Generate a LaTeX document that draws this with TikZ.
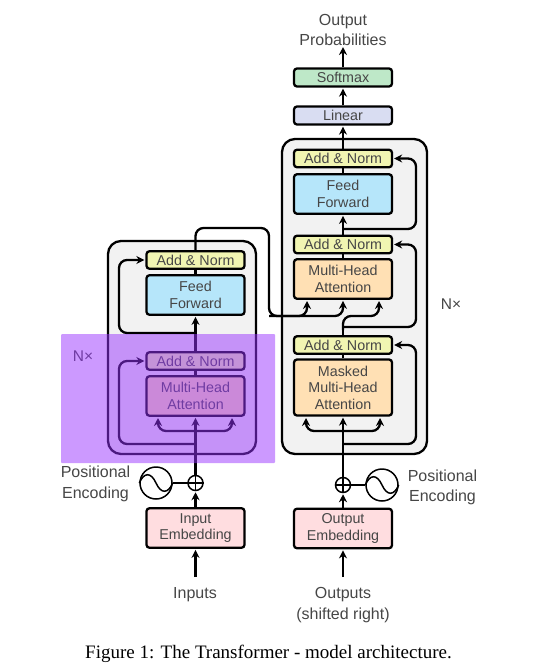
\documentclass[tikz,border=0pt]{standalone}
\usepackage{fontspec}
\setmainfont{Liberation Sans}
\newfontfamily\capfont{Liberation Serif}
\usetikzlibrary{arrows.meta}
\definecolor{cAN}{RGB}{241,245,178}
\definecolor{cFF}{RGB}{182,230,250}
\definecolor{cMH}{RGB}{255,224,180}
\definecolor{cEM}{RGB}{255,221,224}
\definecolor{cSM}{RGB}{190,232,200}
\definecolor{cLN}{RGB}{217,221,242}
\definecolor{cBG}{RGB}{242,242,242}
\definecolor{cTX}{RGB}{70,70,70}
\definecolor{cPU}{RGB}{153,51,255}
\tikzset{
  x=1pt,y=-1pt,
  blk/.style={draw=black,line width=2.3pt,rounded corners=3pt,minimum width=98pt,inner sep=0pt,align=center,text=cTX,font=\fontsize{14.3}{16.6}\selectfont},
  an/.style={blk,fill=cAN,minimum height=17.5pt},
  two/.style={blk,minimum height=39.5pt},
  stack/.style={draw=black,line width=2.3pt,fill=cBG,rounded corners=13pt},
  conn/.style={line width=2.3pt,draw=black,rounded corners=8pt},
  arr/.style={conn,-{Stealth[length=8pt,width=8pt]},shorten >=1pt},
  lab/.style={text=cTX,align=center,font=\fontsize{16}{20.3}\selectfont,inner sep=0pt},
  sine/.style={draw=black,line width=1.5pt,circle,minimum size=32pt,inner sep=0pt},
  plus/.style={draw=black,line width=1.5pt,circle,minimum size=15pt,inner sep=0pt}
}
\begin{document}
\begin{tikzpicture}
\useasboundingbox (0,0) rectangle (550,669);
% stacks
\node[stack,minimum width=148pt,minimum height=213pt,inner sep=0pt] (enc) at (182,347.5) {};
\node[stack,minimum width=145pt,minimum height=315pt,inner sep=0pt] (dec) at (354.5,296.5) {};
% encoder nodes
\node[an] (ean2) at (195.5,260) {Add \& Norm};
\node[two,fill=cFF] (eff) at (195.5,295) {Feed\\Forward};
\node[an] (ean1) at (195.5,361) {Add \& Norm};
\node[two,fill=cMH] (emh) at (195.5,396) {Multi-Head\\Attention};
\node[two,fill=cEM] (eem) at (195.5,528) {\raisebox{-1pt}{Input}\\\raisebox{-1pt}{Embedding}};
\node[plus] (eplus) at (195.5,483) {};
\node[sine] (esin) at (156,483) {};
% decoder nodes
\node[blk,fill=cSM,minimum height=18pt] (sm) at (343,77.5) {Softmax};
\node[blk,fill=cLN,minimum height=18pt] (ln) at (343,115.5) {Linear};
\node[an] (dan3) at (343,158.5) {Add \& Norm};
\node[two,fill=cFF] (dff) at (343,194) {Feed\\Forward};
\node[an] (dan2) at (343,244.5) {Add \& Norm};
\node[two,fill=cMH] (dmh) at (343,279) {Multi-Head\\Attention};
\node[an] (dan1) at (343,345) {Add \& Norm};
\node[blk,fill=cMH,minimum height=56pt] (dmm) at (343,387.5) {Masked\\Multi-Head\\Attention};
\node[two,fill=cEM] (dem) at (343,528.5) {Output\\Embedding};
\node[plus] (dplus) at (343,485) {};
\node[sine] (dsin) at (382,485) {};
% labels
\node[lab] (outp) at (343,30) {Output\\Probabilities};
\node[lab] (inl) at (195,595) {Inputs};
\node[lab] (outl) at (343,605) {Outputs\\(shifted right)};
\node[lab] (pel) at (95.5,484) {Positional\\Encoding};
\node[lab] (per) at (442.5,487.5) {Positional\\Encoding};
\node[lab,font=\fontsize{15.5}{18}\selectfont] (nxr) at (451,304) {N×};
\node[lab,font=\fontsize{15.5}{18}\selectfont] (nxl) at (83,356) {N×};
\node[inner sep=0pt,text=black,font=\capfont\fontsize{19}{22}\selectfont] (cap) at (268.5,654) {Figure 1: The Transformer - model architecture.};
% sine curves & plus marks
\draw[line width=1.5pt] (esin.west) .. controls (144,472) and (151,472) .. (esin.center) .. controls (161,494) and (168,494) .. (esin.east);
\draw[line width=1.5pt] (dsin.west) .. controls (370,474) and (377,474) .. (dsin.center) .. controls (387,496) and (394,496) .. (dsin.east);
\draw[line width=1.3pt] (eplus.north) -- (eplus.south) (eplus.west) -- (eplus.east);
\draw[line width=1.3pt] (dplus.north) -- (dplus.south) (dplus.west) -- (dplus.east);
\draw[conn] (esin.east) -- (eplus.west);
\draw[conn] (dsin.west) -- (dplus.east);
% free coordinates
\coordinate (i1) at (195.5,577);
\coordinate (i2) at (343,577);
\coordinate (e1) at (195.5,444);
\coordinate (e2) at (119,444);
\coordinate (e3) at (119,361);
\coordinate (e4) at (195.5,431);
\coordinate (e5) at (158,431);
\coordinate (e6) at (158,417);
\coordinate (e7) at (232,431);
\coordinate (e8) at (232,417);
\coordinate (f1) at (195.5,333);
\coordinate (f2) at (119,333);
\coordinate (f3) at (119,260);
\coordinate (c1) at (195.5,228);
\coordinate (c2) at (269,228);
\coordinate (c3) at (269,316);
\coordinate (c4) at (343,316);
\coordinate (c5) at (307,316);
\coordinate (c6) at (307,300);
\coordinate (c7) at (343,330);
\coordinate (c8) at (379,316);
\coordinate (c9) at (379,300);
\coordinate (r1) at (343,327);
\coordinate (r2) at (416,327);
\coordinate (r3) at (416,244.5);
\coordinate (s1) at (343,229);
\coordinate (s2) at (416,229);
\coordinate (s3) at (416,158.5);
\coordinate (t1) at (343,444);
\coordinate (t2) at (416,444);
\coordinate (t3) at (416,345);
\coordinate (u1) at (343,431);
\coordinate (u2) at (306,431);
\coordinate (u3) at (306,417);
\coordinate (u4) at (380,431);
\coordinate (u5) at (380,417);
% encoder connectors
\draw[arr] (i1) -- (eem.south);
\draw[arr] (eem.north) -- (eplus.south);
\draw[arr] (eplus.north) -- (emh.south);
\draw[conn] (emh.north) -- (ean1.south);
\draw[arr] (ean1.north) -- (eff.south);
\draw[conn] (eff.north) -- (ean2.south);
\draw[arr] (e1) -- (e2) -- (e3) -- (ean1.west);
\draw[arr] (f1) -- (f2) -- (f3) -- (ean2.west);
\draw[arr] (e4) -- (e5) -- (e6);
\draw[arr] (e4) -- (e7) -- (e8);
% encoder to decoder
\draw[arr] (ean2.north) -- (c1) -- (c2) -- (c3) -- (c4) -- (dmh.south);
\draw[arr] (c3) -- (c5) -- (c6);
\draw[arr] (c7) -- (c4 |- c8) -- (c8) -- (c9);
% decoder connectors
\draw[arr] (i2) -- (dem.south);
\draw[arr] (dem.north) -- (dplus.south);
\draw[arr] (dplus.north) -- (dmm.south);
\draw[conn] (dmm.north) -- (dan1.south);
\draw[conn] (dan1.north) -- (c7);
\draw[conn] (dmh.north) -- (dan2.south);
\draw[arr] (dan2.north) -- (dff.south);
\draw[conn] (dff.north) -- (dan3.south);
\draw[arr] (dan3.north) -- (ln.south);
\draw[arr] (ln.north) -- (sm.south);
\draw[arr] (sm.north) -- (outp.south);
\draw[arr] (r1) -- (r2) -- (r3) -- (dan2.east);
\draw[arr] (s1) -- (s2) -- (s3) -- (dan3.east);
\draw[arr] (t1) -- (t2) -- (t3) -- (dan1.east);
\draw[arr] (u1) -- (u2) -- (u3);
\draw[arr] (u1) -- (u4) -- (u5);
% overlay
\fill[cPU,opacity=0.5,rounded corners=1pt] (61,334) rectangle (275,463);
\end{tikzpicture}
\end{document}
